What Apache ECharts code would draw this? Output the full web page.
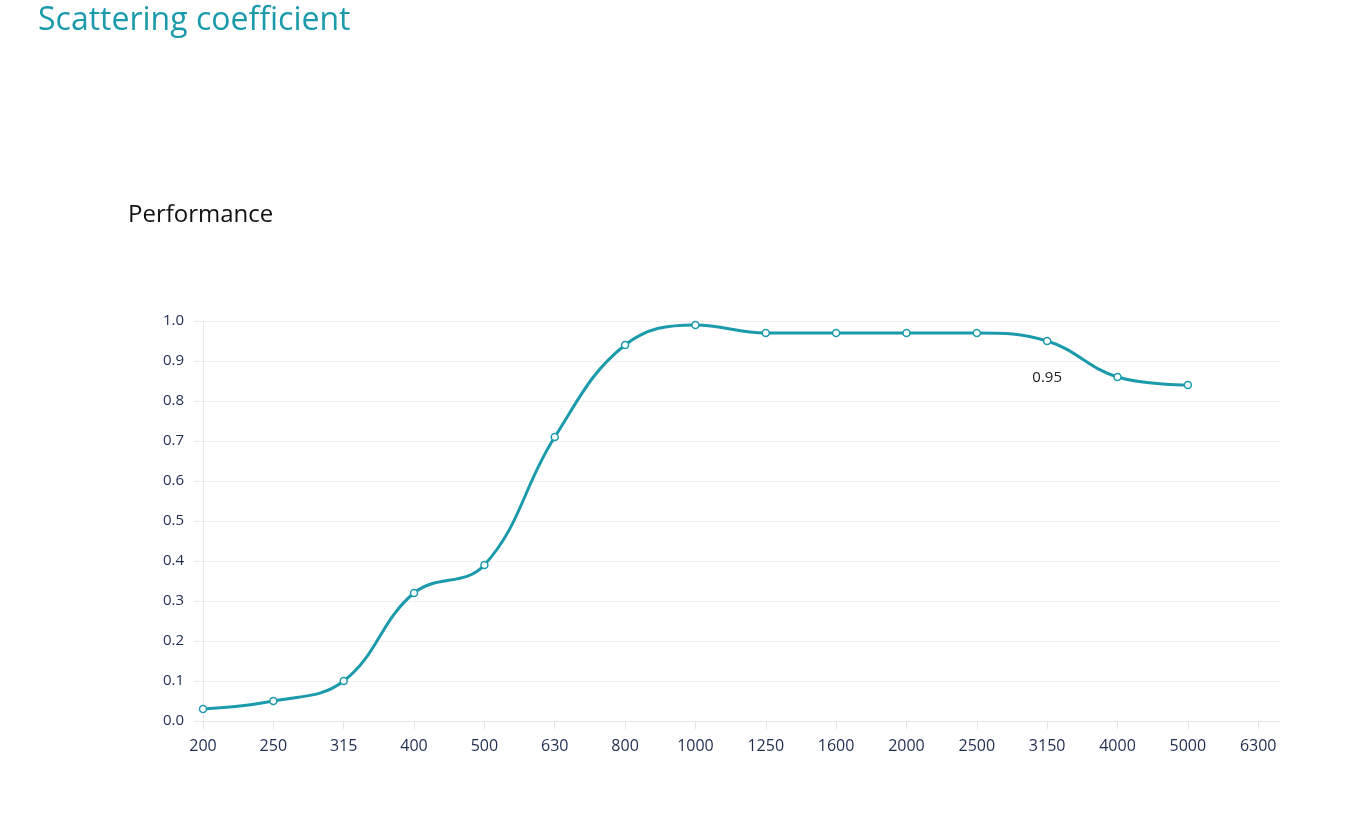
<!DOCTYPE html>
<html>
<head>
<meta charset="utf-8">
<script src="https://cdn.jsdelivr.net/npm/echarts@6/dist/echarts.min.js"></script>
<style>
  html, body { margin: 0; padding: 0; background: #fff; }
  #chart { width: 1366px; height: 834px; }
</style>
</head>
<body>
<div id="chart"></div>
<script>
// frequency bands (Hz)
var bands = ['200', '250', '315', '400', '500', '630', '800', '1000', '1250', '1600', '2000', '2500', '3150', '4000', '5000', '6300'];
// scattering coefficient per band (no value for 6300)
var scattering = [0.03, 0.05, 0.10, 0.32, 0.39, 0.71, 0.94, 0.99, 0.97, 0.97, 0.97, 0.97, 0.95, 0.86, 0.84];
var yTicks = [0, 0.1, 0.2, 0.3, 0.4, 0.5, 0.6, 0.7, 0.8, 0.9, 1.0];
var labelledBand = '3150';

var teal = '#1a9aab';
var ink = '#1f2d4f';

var bandIdx = bands.map(function (b, i) { return i; });

var points = scattering.map(function (v, i) {
  var p = { value: [i, v] };
  if (bands[i] === labelledBand) {
    p.label = {
      show: true,
      position: 'bottom',
      distance: 25,
      color: '#222',
      fontSize: 15,
      fontFamily: 'Open Sans',
      formatter: function (d) { return d.value[1].toFixed(2); }
    };
  }
  return p;
});

var chart = echarts.init(document.getElementById('chart'));
chart.setOption({
  animation: false,
  title: [{
    text: 'Scattering coefficient',
    left: 33,
    top: 0,
    textStyle: { color: teal, fontSize: 32, fontWeight: 'normal', fontFamily: 'Open Sans' }
  }, {
    text: 'Performance',
    left: 123,
    top: 198,
    textStyle: { color: '#111', fontSize: 24, fontWeight: 'normal', fontFamily: 'Open Sans' }
  }],
  grid: { left: 203, right: 86, top: 321, bottom: 113 },
  xAxis: {
    type: 'value',
    min: 0,
    max: 15.31,
    interval: 1,
    axisLine: { lineStyle: { color: '#e4e4e4', width: 1 } },
    axisTick: { show: true, length: 8, customValues: bandIdx, lineStyle: { color: '#e4e4e4' } },
    axisLabel: {
      customValues: bandIdx,
      margin: 17,
      color: ink,
      fontSize: 16,
      fontFamily: 'Open Sans',
      formatter: function (v) { return bands[Math.round(v)] || ''; }
    },
    splitLine: { show: false }
  },
  yAxis: {
    type: 'value',
    min: 0,
    max: 1,
    interval: 0.1,
    axisLine: { show: true, lineStyle: { color: '#e8e8e8', width: 1 } },
    axisTick: { show: true, length: 9, lineStyle: { color: '#e8e8e8' } },
    axisLabel: {
      customValues: yTicks,
      margin: 19,
      color: ink,
      fontSize: 15,
      fontFamily: 'Open Sans',
      formatter: function (v) { return v.toFixed(1); }
    },
    splitLine: { lineStyle: { color: '#f1f1f1', width: 1 } }
  },
  series: [{
    type: 'line',
    data: points,
    smooth: 0.4,
    symbol: 'circle',
    symbolSize: 7,
    showAllSymbol: true,
    lineStyle: { color: teal, width: 3 },
    itemStyle: { color: '#fff', borderColor: teal, borderWidth: 1.5 },
    z: 3
  }]
});
</script>
</body>
</html>
